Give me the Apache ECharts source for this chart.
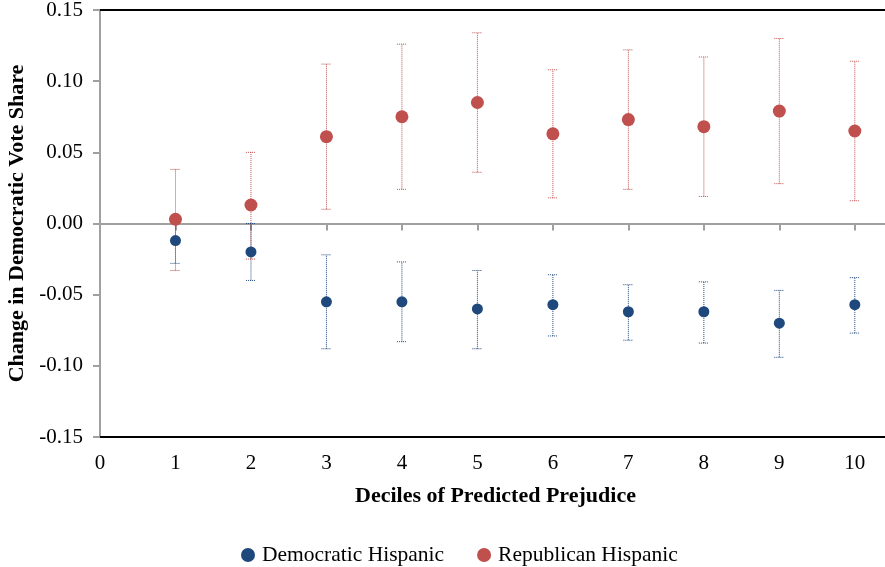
<!DOCTYPE html>
<html><head><meta charset="utf-8">
<script src="https://cdn.jsdelivr.net/npm/echarts@6/dist/echarts.min.js"></script>
<style>html,body{margin:0;padding:0;background:#fff}#c{width:885px;height:567px}</style>
</head><body><div id="c"></div>
<script>
const deciles = [1,2,3,4,5,6,7,8,9,10];
const xTicks = [0,1,2,3,4,5,6,7,8,9,10];
const demEst  = [-0.012,-0.020,-0.055,-0.055,-0.060,-0.057,-0.062,-0.062,-0.070,-0.057];
const demLow  = [-0.028,-0.040,-0.088,-0.083,-0.088,-0.079,-0.082,-0.084,-0.094,-0.077];
const demHigh = [0.004,0.000,-0.022,-0.027,-0.033,-0.036,-0.043,-0.041,-0.047,-0.038];
const repEst  = [0.003,0.013,0.061,0.075,0.085,0.063,0.073,0.068,0.079,0.065];
const repLow  = [-0.033,-0.025,0.010,0.024,0.036,0.018,0.024,0.019,0.028,0.016];
const repHigh = [0.038,0.050,0.112,0.126,0.134,0.108,0.122,0.117,0.130,0.114];

const BLUE = '#1f497d', RED = '#c0504d';
const FONT = '"Liberation Serif","Times New Roman",serif';

function errData(low, high){ return deciles.map((d,i)=>[d, low[i], high[i]]); }
function errRender(color){
  return function(params, api){
    const x = api.value(0);
    const lo = api.coord([x, api.value(1)]);
    const hi = api.coord([x, api.value(2)]);
    const w = 5;
    const st = {stroke: color, lineWidth: 1, lineDash: [1,1]};
    return {type:'group', children:[
      {type:'line', shape:{x1:lo[0],y1:lo[1],x2:hi[0],y2:hi[1]}, style:st},
      {type:'line', shape:{x1:lo[0]-w,y1:lo[1],x2:lo[0]+w,y2:lo[1]}, style:st},
      {type:'line', shape:{x1:hi[0]-w,y1:hi[1],x2:hi[0]+w,y2:hi[1]}, style:st}
    ]};
  };
}

const chart = echarts.init(document.getElementById('c'), null, {renderer:'canvas'});
chart.setOption({
  animation:false,
  textStyle:{fontFamily:FONT},
  grid:{left:100, right:0, top:10, bottom:130, containLabel:false, outerBoundsMode:'none'},
  legend:{
    top:539, left:236, itemGap:33, itemWidth:14, itemHeight:14,
    data:[{name:'Democratic Hispanic', icon:'circle'},{name:'Republican Hispanic', icon:'circle'}],
    textStyle:{fontFamily:FONT, fontSize:21.5, color:'#000', padding:[0,0,0,2]}, itemStyle:{borderWidth:0}
  },
  xAxis:[
    {type:'value', min:0, max:10.4, interval:1, position:'bottom',
     axisLine:{show:true, onZero:true, lineStyle:{color:'#a0a0a0', width:2}},
     axisTick:{show:true, length:7, customValues: xTicks.slice(1), lineStyle:{color:'#a0a0a0', width:2}},
     axisLabel:{show:false}, splitLine:{show:false}},
    {type:'value', min:0, max:10.4, interval:1, position:'bottom',
     axisLine:{show:true, onZero:false, lineStyle:{color:'#000', width:2}},
     axisTick:{show:false},
     axisLabel:{show:true, customValues: xTicks, margin:16, fontFamily:FONT, fontSize:21, color:'#000',
       formatter:v=>String(v)},
     splitLine:{show:false},
     name:'Deciles of Predicted Prejudice', nameLocation:'middle', nameGap:48,
     nameTextStyle:{fontFamily:FONT, fontSize:22, fontWeight:'bold', color:'#000', padding:[0,0,0,6]}},
    {type:'value', min:0, max:10.4, position:'top',
     axisLine:{show:true, onZero:false, lineStyle:{color:'#000', width:2}},
     axisTick:{show:false}, axisLabel:{show:false}, splitLine:{show:false}}
  ],
  yAxis:{type:'value', min:-0.15, max:0.15, interval:0.05,
    axisLine:{show:true, lineStyle:{color:'#a0a0a0', width:2}},
    axisTick:{show:true, length:7, lineStyle:{color:'#a0a0a0', width:2}},
    axisLabel:{margin:17, fontFamily:FONT, fontSize:21, color:'#000', formatter:v=>v.toFixed(2)},
    splitLine:{show:false},
    name:'Change in Democratic Vote Share', nameLocation:'middle', nameGap:71,
    nameTextStyle:{fontFamily:FONT, fontSize:22, fontWeight:'bold', color:'#000'}},
  series:[
    {type:'custom', name:'demErr', xAxisIndex:0, data:errData(demLow, demHigh), renderItem:errRender(BLUE), z:2, silent:true},
    {type:'custom', name:'repErr', xAxisIndex:0, data:errData(repLow, repHigh), renderItem:errRender(RED), z:2, silent:true},
    {type:'scatter', name:'Democratic Hispanic', xAxisIndex:0, symbolSize:11, itemStyle:{color:BLUE, opacity:1}, z:3,
     data:deciles.map((d,i)=>[d, demEst[i]])},
    {type:'scatter', name:'Republican Hispanic', xAxisIndex:0, symbolSize:13, itemStyle:{color:RED, opacity:1}, z:3,
     data:deciles.map((d,i)=>[d, repEst[i]])}
  ]
});
</script></body></html>
